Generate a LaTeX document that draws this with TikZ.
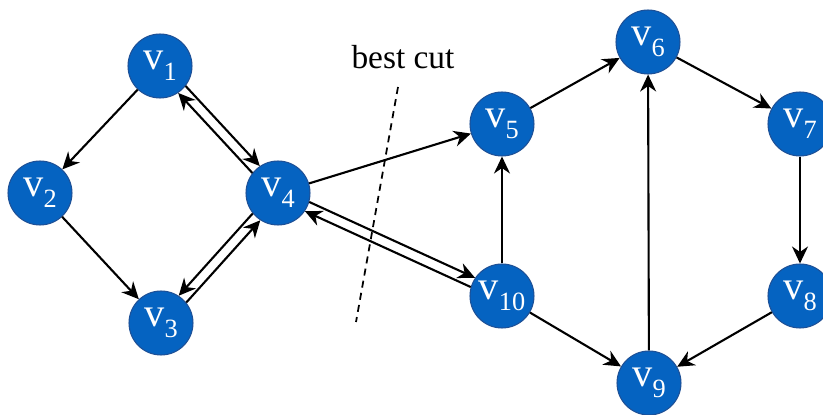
\documentclass[tikz,border=0pt]{standalone}
\usepackage{fontspec}
\setmainfont{Liberation Serif}
\usepackage{tikz}
\usetikzlibrary{arrows.meta}
\definecolor{vfill}{RGB}{5,99,193}
\definecolor{vline}{RGB}{30,80,150}
\tikzset{
  >={Stealth[length=3.4mm, width=3.2mm, inset=1.1mm]},
  vtx/.style={draw=vline, line width=0.6pt, circle, fill=vfill, text=white, inner sep=0pt, minimum size=1.28cm, font=\fontsize{23}{25}\selectfont},
  edge/.style={->, line width=1.2pt},
}
\newcommand{\vlab}[1]{v\raisebox{-6pt}{\fontsize{15}{15}\selectfont #1}}

\begin{document}
\begin{tikzpicture}[x=0.02cm, y=-0.02cm]
  \useasboundingbox (0,0) rectangle (823,415);
  % left part
  \node[vtx] (v1) at (160,66) {\vlab{1}};
  \node[vtx] (v2) at (40,193) {\vlab{2}};
  \node[vtx] (v3) at (161,323) {\vlab{3}};
  \node[vtx] (v4) at (278,193) {\vlab{4}};
  % right part
  \node[vtx] (v5) at (502,124) {\vlab{5}};
  \node[vtx] (v6) at (648,42) {\vlab{6}};
  \node[vtx] (v7) at (800,124) {\vlab{7}};
  \node[vtx] (v8) at (800,296) {\vlab{8}};
  \node[vtx] (v9) at (649,383) {\vlab{9}};
  \node[vtx] (v10) at (502,296) {\vlab{10}};
  % cut
  \coordinate (cuttop) at (398,87);
  \coordinate (cutbot) at (356,322);
  \draw[dash pattern=on 4pt off 3pt, line width=1pt] (cuttop) -- (cutbot);
  \node[font=\fontsize{19}{21}\selectfont] (cut) at (403,57) {best cut};
  % edges
  \draw[edge] (v1) -- (v2);
  \draw[edge] (v2) -- (v3);
  \draw[edge] (v1.-38) -- (v4.124);
  \draw[edge] (v4.142) -- (v1.-56);
  \draw[edge] (v3.39) -- (v4.237);
  \draw[edge] (v4.219) -- (v3.57);
  \draw[edge] (v4) -- (v5);
  \draw[edge] (v4.-16) -- (v10.146);
  \draw[edge] (v10.164) -- (v4.-34);
  \draw[edge] (v10) -- (v5);
  \draw[edge] (v5) -- (v6);
  \draw[edge] (v6) -- (v7);
  \draw[edge] (v7) -- (v8);
  \draw[edge] (v8) -- (v9);
  \draw[edge] (v10) -- (v9);
  \draw[edge] (v9) -- (v6);
\end{tikzpicture}
\end{document}
